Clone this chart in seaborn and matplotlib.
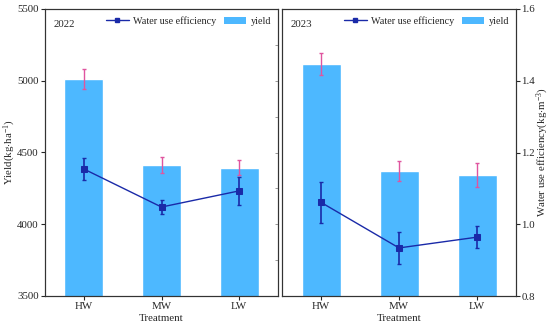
import matplotlib
matplotlib.use("Agg")
import matplotlib.pyplot as plt
import seaborn as sns
import pandas as pd
from matplotlib.lines import Line2D
from matplotlib.patches import Patch

treatments = ["HW", "MW", "LW"]
years = ["2022", "2023"]
yield_2022 = [5010, 4415, 4395]
yield_err_2022 = [70, 55, 50]
yield_2023 = [5117, 4372, 4343]
yield_err_2023 = [77, 70, 82]
wue_2022 = [1.154, 1.048, 1.093]
wue_err_2022 = [0.030, 0.020, 0.040]
wue_2023 = [1.061, 0.934, 0.964]
wue_err_2023 = [0.057, 0.045, 0.030]

sns.set_theme(style="ticks")
plt.rcParams["font.family"] = ["Liberation Serif", "DejaVu Serif"]
plt.rcParams["mathtext.fontset"] = "custom"
plt.rcParams["mathtext.rm"] = "Liberation Serif"
plt.rcParams["mathtext.it"] = "Liberation Serif:italic"

bar_color = "#4db8ff"
err_color = "#e0559f"
line_color = "#1a2aa8"
fs = 7.8

fig = plt.figure(figsize=(5.5, 3.27), dpi=100)
W, H = 550, 327
ax_pos = [[45, 278], [282, 516]]
top, bottom = 9, 296

data = {
    "2022": (yield_2022, yield_err_2022, wue_2022, wue_err_2022),
    "2023": (yield_2023, yield_err_2023, wue_2023, wue_err_2023),
}

for i, yr in enumerate(years):
    x0, x1 = ax_pos[i]
    ax = fig.add_axes([x0 / W, 1 - bottom / H, (x1 - x0) / W, (bottom - top) / H])
    yv, ye, wv, we = data[yr]
    df = pd.DataFrame({"Treatment": treatments, "yield": yv, "wue": wv})
    sns.barplot(data=df, x="Treatment", y="yield", color=bar_color, width=0.5,
                ax=ax, saturation=1, errorbar=None)
    ax.errorbar(range(len(treatments)), yv, yerr=ye, fmt="none", ecolor=err_color,
                elinewidth=1.0, capsize=1.5, capthick=1.0)
    ax.set_ylim(3500, 5500)
    ax.set_xlim(-0.5, 2.5)
    ax.set_xlabel("Treatment", fontsize=fs, labelpad=2)
    ax.tick_params(axis="both", labelsize=fs, direction="out", length=3, width=0.8,
                   pad=1.5)
    for s in ax.spines.values():
        s.set_linewidth(0.8)
        s.set_color("#333333")
    ax2 = ax.twinx()
    sns.lineplot(data=df, x="Treatment", y="wue", ax=ax2, color=line_color,
                 marker="s", markersize=4, markeredgecolor=line_color, linewidth=1.0,
                 sort=False)
    ax2.errorbar(range(len(treatments)), wv, yerr=we, fmt="none", ecolor=line_color,
                 elinewidth=1.2, capsize=1.5, capthick=1.0)
    ax2.set_ylim(0.8, 1.6)
    ax2.set_xlim(-0.5, 2.5)
    for s in ax2.spines.values():
        s.set_linewidth(0.8)
        s.set_color("#333333")
    if i == 0:
        ax.set_yticks([3500, 4000, 4500, 5000, 5500])
        ax.set_ylabel(r"Yield(kg$\cdot$ha$^{-1}$)", fontsize=fs)
        ax.yaxis.set_label_coords(-0.115, 0.5)
        ax2.set_yticks([0.8, 0.9, 1.0, 1.1, 1.2, 1.3, 1.4, 1.5, 1.6])
        ax2.set_yticklabels([])
        ax2.tick_params(axis="y", direction="in", length=2, width=0.6, color="#888888")
        ax2.set_ylabel("")
    else:
        ax.set_yticks([3500, 4000, 4500, 5000, 5500])
        ax.set_yticklabels([])
        ax.tick_params(axis="y", length=0)
        ax.set_ylabel("")
        ax2.set_yticks([0.8, 1.0, 1.2, 1.4, 1.6])
        ax2.set_yticklabels(["0.8", "1.0", "1.2", "1.4", "1.6"])
        ax2.tick_params(axis="y", labelsize=fs, direction="out", length=3, width=0.8,
                        pad=1)
        ax2.set_ylabel(r"Water use efficiency(kg$\cdot$m$^{-3}$)", fontsize=fs)
        ax2.yaxis.set_label_coords(1.08, 0.5)
    ax.text(0.035, 0.96, yr, transform=ax.transAxes, fontsize=fs, ha="left", va="top")
    handles = [Line2D([0], [0], color=line_color, marker="s", markersize=3.5, lw=1.0),
               Patch(facecolor=bar_color, edgecolor="none")]
    ax2.legend(handles, ["Water use efficiency", "yield"], loc="upper right", ncol=2,
               frameon=False, fontsize=7.3, handlelength=2.2, handletextpad=0.4,
               columnspacing=0.8, borderaxespad=0.3, bbox_to_anchor=(1.0, 1.0))

fig.savefig("out.png", dpi=100)
